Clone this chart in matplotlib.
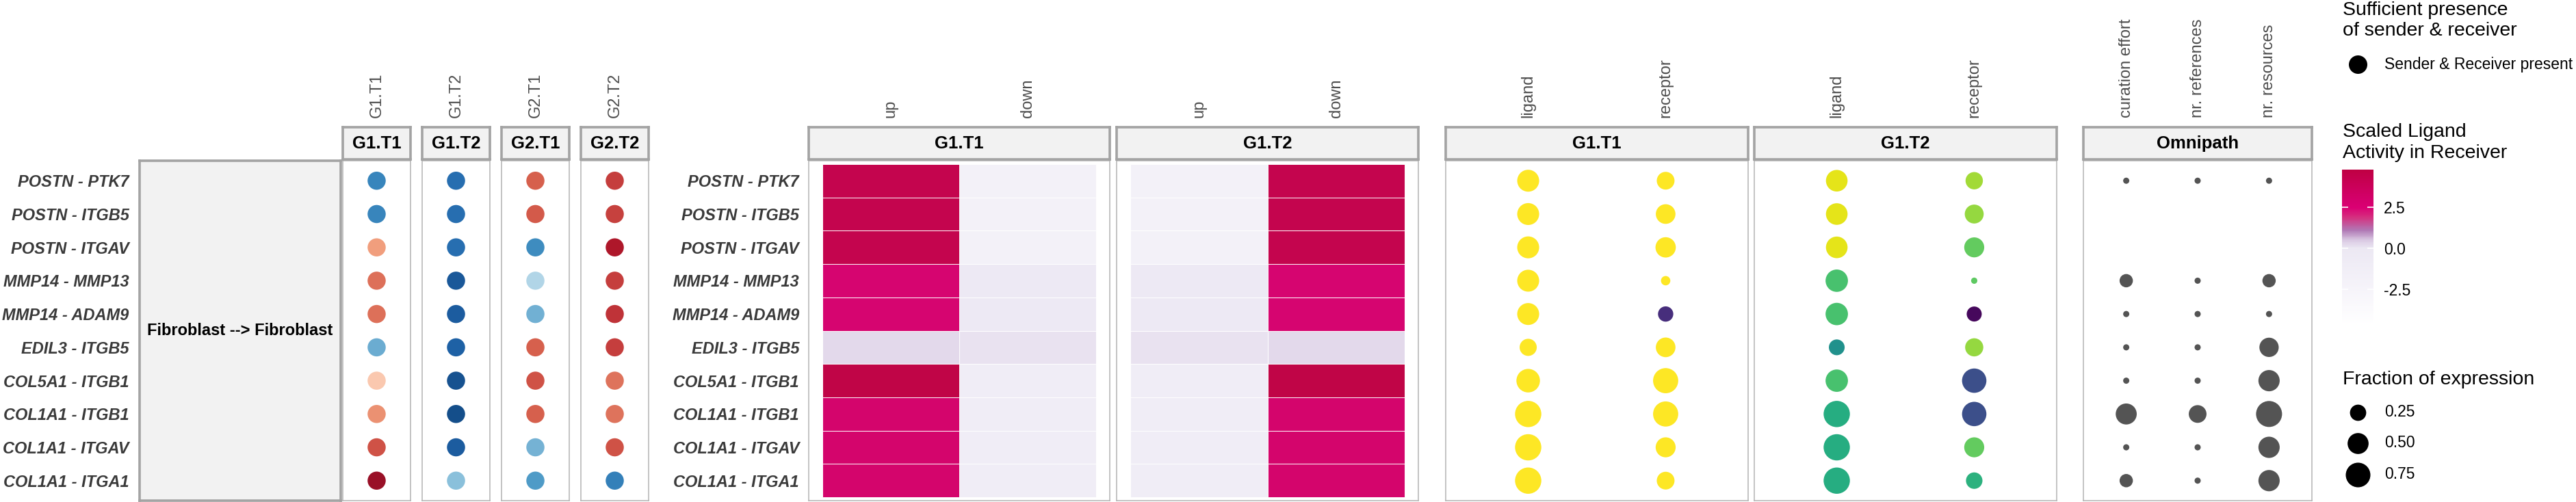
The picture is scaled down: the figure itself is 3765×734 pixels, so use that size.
import numpy as np
import matplotlib.pyplot as plt
from matplotlib.colors import LinearSegmentedColormap, Normalize
from matplotlib.cm import ScalarMappable

plt.rcParams['font.family'] = ['Liberation Sans', 'DejaVu Sans']

W, H = 3766, 734
DPI = 100

# ---- data -----------------------------------------------------------------
interactions = ['POSTN - PTK7', 'POSTN - ITGB5', 'POSTN - ITGAV', 'MMP14 - MMP13',
                'MMP14 - ADAM9', 'EDIL3 - ITGB5', 'COL5A1 - ITGB1', 'COL1A1 - ITGB1',
                'COL1A1 - ITGAV', 'COL1A1 - ITGA1']
pair_label = 'Fibroblast --> Fibroblast'

# scaled interaction expression per sample group
groups = ['G1.T1', 'G1.T2', 'G2.T1', 'G2.T2']
expr_g1t1 = [-0.66, -0.66, 0.42, 0.55, 0.55, -0.50, 0.27, 0.46, 0.64, 0.86]
expr_g1t2 = [-0.76, -0.76, -0.76, -0.85, -0.83, -0.82, -0.87, -0.89, -0.83, -0.42]
expr_g2t1 = [0.60, 0.61, -0.63, -0.30, -0.48, 0.60, 0.64, 0.60, -0.47, -0.57]
expr_g2t2 = [0.69, 0.68, 0.81, 0.69, 0.72, 0.69, 0.54, 0.54, 0.64, -0.68]

# scaled ligand activity in receiver
directions = ['up', 'down']
act_g1t1_up = [4.47, 4.47, 4.47, 2.85, 2.85, 0.25, 4.82, 3.10, 3.10, 3.10]
act_g1t1_down = [-1.8, -1.8, -1.8, -0.2, -0.2, 0.1, -1.0, -1.0, -1.0, -1.0]
act_g1t2_up = [-1.8, -1.8, -1.8, -0.2, -0.2, 0.1, -1.0, -1.0, -1.0, -1.0]
act_g1t2_down = [4.47, 4.47, 4.47, 2.85, 2.85, 0.25, 4.82, 3.10, 3.10, 3.10]
act_limits = (-4.67, 4.82)

# ligand / receptor expression (colour) and fraction of expression (size)
lr_cols = ['ligand', 'receptor']
lig_expr_g1t1 = [1.0, 1.0, 1.0, 1.0, 1.0, 1.0, 1.0, 1.0, 1.0, 1.0]
rec_expr_g1t1 = [1.0, 1.0, 1.0, 1.0, 0.13, 1.0, 1.0, 1.0, 1.0, 1.0]
lig_expr_g1t2 = [0.96, 0.96, 0.96, 0.71, 0.71, 0.50, 0.71, 0.62, 0.62, 0.62]
rec_expr_g1t2 = [0.86, 0.84, 0.76, 0.75, 0.02, 0.84, 0.24, 0.24, 0.76, 0.64]
lig_frac_g1t1 = [0.56, 0.56, 0.56, 0.56, 0.56, 0.29, 0.67, 0.88, 0.88, 0.88]
rec_frac_g1t1 = [0.32, 0.42, 0.46, 0.04, 0.21, 0.42, 0.79, 0.79, 0.44, 0.32]
lig_frac_g1t2 = [0.54, 0.54, 0.54, 0.59, 0.59, 0.23, 0.59, 0.88, 0.88, 0.88]
rec_frac_g1t2 = [0.30, 0.38, 0.44, 0.004, 0.20, 0.34, 0.73, 0.73, 0.44, 0.26]

# omnipath resource metrics (scaled)
omni_cols = ['curation effort', 'nr. references', 'nr. resources']
curation_effort = [0.0, np.nan, np.nan, 0.13, 0.0, 0.0, 0.0, 0.56, 0.0, 0.13]
nr_references = [0.0, np.nan, np.nan, 0.0, 0.0, 0.0, 0.0, 0.34, 0.0, 0.0]
nr_resources = [0.0, np.nan, np.nan, 0.13, 0.0, 0.44, 0.58, 1.0, 0.58, 0.58]

frac_legend = [0.25, 0.50, 0.75]
act_ticks = [-2.5, 0.0, 2.5]

# ---- helpers --------------------------------------------------------------
n = len(interactions)
ypos = np.arange(n, 0, -1)

fig = plt.figure(figsize=(W / DPI, H / DPI), dpi=DPI)


def px_axes(x0, y0, x1, y1):
    return fig.add_axes([x0 / W, 1 - y1 / H, (x1 - x0) / W, (y1 - y0) / H])


def pt2(d_px):
    return (d_px * 72 / DPI) ** 2


def frac_px(v):
    return 7 + 33.5 * np.sqrt(np.asarray(v, dtype=float))


def omni_px(v):
    return 9 + 29 * np.sqrt(np.asarray(v, dtype=float))


def panel(x0, x1, xlabels):
    ax = px_axes(x0, 235, x1, 732)
    ax.set_xlim(0.4, len(xlabels) + 0.6)
    ax.set_ylim(0.4, n + 0.6)
    ax.set_xticks(np.arange(1, len(xlabels) + 1), xlabels)
    ax.xaxis.tick_top()
    ax.tick_params(axis='x', length=0, pad=45, labelsize=17, labelcolor='#4D4D4D',
                   labelrotation=90)
    ax.set_yticks([])
    for sp in ax.spines.values():
        sp.set_color('#B3B3B3')
        sp.set_linewidth(1.1)
    return ax


def strip(x0, x1, label):
    s = px_axes(x0, 186, x1, 233)
    s.set_facecolor('#F2F2F2')
    s.set_xticks([])
    s.set_yticks([])
    for sp in s.spines.values():
        sp.set_color('#A3A3A3')
        sp.set_linewidth(2.6)
    s.text(0.5, 0.5, label, ha='center', va='center', fontsize=18.5,
           fontweight='bold', transform=s.transAxes)


def row_labels(ax, pad):
    ax.set_yticks(ypos, interactions)
    ax.tick_params(axis='y', length=0, pad=pad, labelsize=17, labelcolor='#3A3A3A')
    for t in ax.get_yticklabels():
        t.set_fontweight('bold')
        t.set_fontstyle('italic')


# ---- sender/receiver box --------------------------------------------------
box = px_axes(204, 235, 498, 732)
box.set_facecolor('#F2F2F2')
box.set_xlim(0, 1)
box.set_ylim(0.4, n + 0.6)
box.set_xticks([])
for sp in box.spines.values():
    sp.set_color('#A3A3A3')
    sp.set_linewidth(2.6)
row_labels(box, 11)
box.text(0.5, 0.5, pair_label, ha='center', va='center', fontsize=17,
         fontweight='bold', transform=box.transAxes)

# ---- interaction expression dots ------------------------------------------
expr_norm = Normalize(-1, 1)
expr_vals = [expr_g1t1, expr_g1t2, expr_g2t1, expr_g2t2]
for k, (g, vals) in enumerate(zip(groups, expr_vals)):
    x0 = 501 + k * 116
    ax = panel(x0, x0 + 99, [g])
    ax.scatter(np.ones(n), ypos, c=vals, cmap='RdBu_r', norm=expr_norm,
               s=pt2(26.5), linewidths=0)
    strip(x0, x0 + 99, g)

# ---- ligand activity heatmap ----------------------------------------------
act_cmap = LinearSegmentedColormap.from_list('act', [
    (0.000, '#FFFFFF'),
    ((-2.5 + 4.67) / 9.49, '#F6F4FA'),
    ((0.0 + 4.67) / 9.49, '#ECE8F3'),
    ((0.5 + 4.67) / 9.49, '#DACAE3'),
    ((1.1 + 4.67) / 9.49, '#B07AB6'),
    ((1.9 + 4.67) / 9.49, '#D5307F'),
    ((2.5 + 4.67) / 9.49, '#DA0073'),
    ((3.0 + 4.67) / 9.49, '#D4006B'),
    (1.000, '#BF0043'),
])
act_norm = Normalize(*act_limits)
heat_sets = [('G1.T1', act_g1t1_up, act_g1t1_down, 1182, 1622),
             ('G1.T2', act_g1t2_up, act_g1t2_down, 1632, 2073)]
for k, (g, up, down, x0, x1) in enumerate(heat_sets):
    ax = panel(x0, x1, directions)
    C = np.column_stack([up, down])[::-1]
    ax.pcolormesh(np.arange(0.5, 3.0, 1.0), np.arange(0.5, n + 1.0, 1.0), C,
                  cmap=act_cmap, norm=act_norm, edgecolors='#FFFFFF', linewidth=0.6,
                  alpha=0.98)
    if k == 0:
        row_labels(ax, 10)
    strip(x0, x1, g)

# ---- ligand / receptor expression -----------------------------------------
lr_sets = [('G1.T1', lig_expr_g1t1, rec_expr_g1t1, lig_frac_g1t1, rec_frac_g1t1, 2113, 2555),
           ('G1.T2', lig_expr_g1t2, rec_expr_g1t2, lig_frac_g1t2, rec_frac_g1t2, 2564, 3006)]
for g, le, re, lf, rf, x0, x1 in lr_sets:
    ax = panel(x0, x1, lr_cols)
    for xi, (e, f) in enumerate([(le, lf), (re, rf)], start=1):
        ax.scatter(np.full(n, xi), ypos, c=e, cmap='viridis', vmin=0, vmax=1,
                   s=pt2(frac_px(f)), linewidths=0)
    strip(x0, x1, g)

# ---- omnipath -------------------------------------------------------------
ax = panel(3045, 3379, omni_cols)
for xi, vals in enumerate([curation_effort, nr_references, nr_resources], start=1):
    v = np.asarray(vals, dtype=float)
    ok = np.isfinite(v)
    ax.scatter(np.full(ok.sum(), xi), ypos[ok], s=pt2(omni_px(v[ok])),
               color='#545454', linewidths=0)
strip(3045, 3379, 'Omnipath')

# ---- legends --------------------------------------------------------------
lax = px_axes(3400, 0, 3766, 734)
lax.set_xlim(3400, 3766)
lax.set_ylim(734, 0)
lax.axis('off')

title_kw = dict(fontsize=20.5, ha='left', va='baseline', color='black')
lab_kw = dict(fontsize=16.5, ha='left', va='center', color='black')

lax.text(3424, 22.5, 'Sufficient presence', **title_kw)
lax.text(3424, 52.4, 'of sender & receiver', **title_kw)
lax.scatter([3446.5], [94], s=pt2(27), color='black', linewidths=0)
lax.text(3485, 94, 'Sender & Receiver present', **lab_kw)

lax.text(3424, 200.4, 'Scaled Ligand', **title_kw)
lax.text(3424, 230.8, 'Activity in Receiver', **title_kw)

lax.text(3424, 561.8, 'Fraction of expression', **title_kw)
for v, yy in zip(frac_legend, [602.5, 648, 694]):
    lax.scatter([3446.5], [yy], s=pt2(frac_px(v)), color='black', linewidths=0)
    lax.text(3485, yy, f'{v:.2f}', **lab_kw)

cax = px_axes(3423, 248, 3469, 475)
cb = fig.colorbar(ScalarMappable(norm=act_norm, cmap=act_cmap), cax=cax, ticks=act_ticks)
cb.outline.set_visible(False)
cb.ax.set_yticklabels([f'{t:.1f}' for t in act_ticks])
cax.tick_params(axis='y', direction='in', length=6.5, width=1.2, color='white',
                left=True, right=True, labelleft=False, labelright=True,
                pad=11, labelsize=16.5, labelcolor='black')

fig.savefig('out.png', dpi=DPI, facecolor='white')
